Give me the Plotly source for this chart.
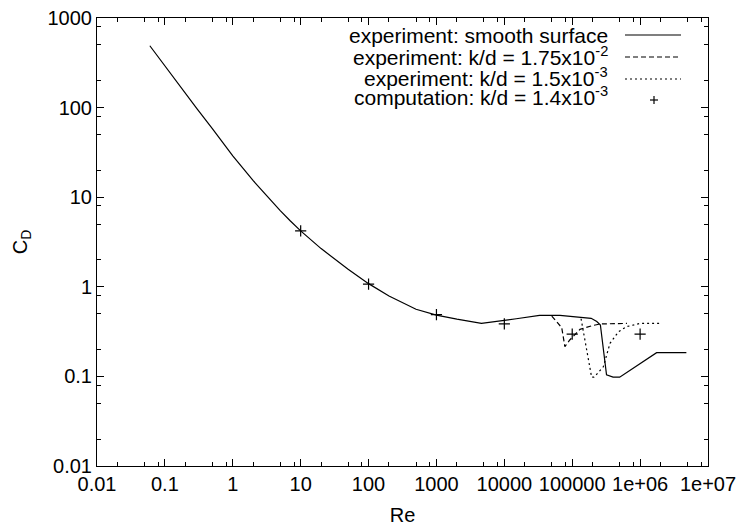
import plotly.graph_objects as go

# ---- data ----
smooth_re = [0.06, 0.1, 0.17, 0.3, 0.5, 1, 2, 3, 5, 7, 10, 20, 50, 100, 200, 500,
             1000, 2000, 4600, 1.5e4, 3.3e4, 6.6e4, 1.3e5, 1.9e5, 2.3e5, 2.6e5,
             3.2e5, 4.0e5, 5.0e5, 1.75e6, 4.8e6]
smooth_cd = [490, 290, 167, 96, 58.3, 29, 15.3, 10.8, 7.08, 5.46, 4.21, 2.67, 1.567, 1.085, 0.789, 0.562,
             0.483, 0.435, 0.39, 0.44, 0.48, 0.48, 0.46, 0.445, 0.41, 0.375,
             0.104, 0.098, 0.098, 0.184, 0.184]

rough1_re = [5.0e4, 6.6e4, 7.0e4, 7.8e4, 9.2e4, 1.3e5, 2.0e5, 2.6e5, 4.0e5, 6.4e5]
rough1_cd = [0.47, 0.375, 0.35, 0.215, 0.255, 0.335, 0.37, 0.385, 0.39, 0.39]

rough2_re = [1.35e5, 1.63e5, 1.93e5, 2.1e5, 2.87e5, 3.6e5, 4.8e5, 6.3e5, 1.0e6, 1.95e6]
rough2_cd = [0.44, 0.197, 0.098, 0.098, 0.128, 0.234, 0.315, 0.359, 0.39, 0.39]

comp_re = [10, 100, 1000, 1e4, 1e5, 1e6]
comp_cd = [4.2, 1.07, 0.49, 0.385, 0.297, 0.297]

x_tickvals = [0.01, 0.1, 1, 10, 100, 1000, 1e4, 1e5, 1e6, 1e7]
x_ticktext = ["0.01", "0.1", "1", "10", "100", "1000", "10000", "100000", "1e+06", "1e+07"]
y_tickvals = [0.01, 0.1, 1, 10, 100, 1000]
y_ticktext = ["0.01", "0.1", "1", "10", "100", "1000"]

legend_labels = [
    "experiment: smooth surface",
    "experiment: k/d = 1.75x10<sup>-2</sup>",
    "experiment: k/d = 1.5x10<sup>-3</sup>",
    "computation: k/d = 1.4x10<sup>-3</sup>",
]

# ---- figure ----
FONT = "Liberation Sans, Arial, Helvetica, sans-serif"
W, H = 742, 526
ML, MR, MT, MB = 97, 34, 18, 60
PW, PH = W - ML - MR, H - MT - MB

fig = go.Figure()
fig.add_trace(go.Scatter(x=smooth_re, y=smooth_cd, mode="lines",
                         line=dict(color="black", width=1.2), showlegend=False))
fig.add_trace(go.Scatter(x=rough1_re, y=rough1_cd, mode="lines",
                         line=dict(color="black", width=1.2, dash="5px,3px"), showlegend=False))
fig.add_trace(go.Scatter(x=rough2_re, y=rough2_cd, mode="lines",
                         line=dict(color="black", width=1.2, dash="2px,3px"), showlegend=False))
fig.add_trace(go.Scatter(x=comp_re, y=comp_cd, mode="markers",
                         marker=dict(symbol="cross-thin", size=8, color="black",
                                     line=dict(color="black", width=1.2)),
                         showlegend=False))

minor_vals = []
for e in range(-2, 7):
    for m in (2, 5, 8):
        minor_vals.append(m * 10 ** e)
minor_y = [v for v in minor_vals if v < 1000]

axis_common = dict(showline=True, linecolor="black", linewidth=1, mirror="allticks",
                   ticks="inside", ticklen=7, tickcolor="black", tickwidth=1,
                   showgrid=False, zeroline=False, automargin=False,
                   tickfont=dict(family=FONT, size=20, color="black"))

fig.update_xaxes(type="log", range=[-2, 7], tickmode="array", tickvals=x_tickvals,
                 ticktext=x_ticktext, tickangle=0,
                 minor=dict(tickmode="array", tickvals=minor_vals, ticks="inside",
                            ticklen=4, tickcolor="black", showgrid=False),
                 title=dict(text="Re", font=dict(family=FONT, size=20, color="black"),
                            standoff=14),
                 **axis_common)
fig.update_yaxes(type="log", range=[-2, 3], tickmode="array", tickvals=y_tickvals,
                 ticktext=y_ticktext,
                 minor=dict(tickmode="array", tickvals=minor_y, ticks="inside",
                            ticklen=4, tickcolor="black", showgrid=False),
                 title=dict(text="C<sub>D</sub>", font=dict(family=FONT, size=20, color="black"),
                            standoff=14),
                 **axis_common)

# ---- gnuplot-style key: right-aligned text, sample on the right ----
def px2x(px):
    return (px - ML) / PW

def py2y(py):
    return (H - MB - py) / PH

text_rows_py = [36, 56, 77, 96]
samp_rows_py = [35, 57, 79, 100]
text_right = 609
samp_x0, samp_x1 = 625, 681
dashes = ["solid", "5px,3px", "2px,3px"]
for i, lab in enumerate(legend_labels):
    fig.add_annotation(x=px2x(text_right), y=py2y(text_rows_py[i]), xref="paper", yref="paper",
                       text=lab, showarrow=False, xanchor="right", yanchor="middle",
                       align="right", borderpad=0,
                       font=dict(family=FONT, size=21, color="black"))
    if i < 3:
        fig.add_shape(type="line", xref="paper", yref="paper",
                      x0=px2x(samp_x0), x1=px2x(samp_x1),
                      y0=py2y(samp_rows_py[i]), y1=py2y(samp_rows_py[i]),
                      line=dict(color="black", width=1.2, dash=dashes[i]))
    else:
        cx, cy = 654, samp_rows_py[i]
        fig.add_shape(type="line", xref="paper", yref="paper",
                      x0=px2x(cx - 4), x1=px2x(cx + 4), y0=py2y(cy), y1=py2y(cy),
                      line=dict(color="black", width=1.2))
        fig.add_shape(type="line", xref="paper", yref="paper",
                      x0=px2x(cx), x1=px2x(cx), y0=py2y(cy - 4), y1=py2y(cy + 4),
                      line=dict(color="black", width=1.2))

fig.update_layout(width=W, height=H, margin=dict(l=ML, r=MR, t=MT, b=MB, autoexpand=False),
                  paper_bgcolor="white", plot_bgcolor="white",
                  font=dict(family=FONT, size=20, color="black"))

fig.write_html("out.html")
